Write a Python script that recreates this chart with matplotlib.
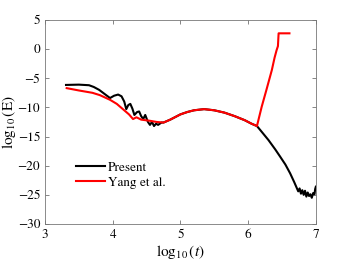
import matplotlib
matplotlib.use("Agg")
import matplotlib.pyplot as plt

# Present (black)
present_x = [3.31, 3.50, 3.65, 3.72, 3.80, 3.88, 3.96, 4.02, 4.08, 4.13, 4.17, 4.20,
             4.23, 4.26, 4.29, 4.32, 4.36, 4.39, 4.42, 4.45, 4.48, 4.52, 4.55, 4.58,
             4.61, 4.64, 4.67, 4.72, 4.75, 4.85, 5.00, 5.10, 5.20, 5.35, 5.50, 5.65,
             5.80, 5.95, 6.05, 6.13, 6.18, 6.30, 6.40, 6.47, 6.55, 6.62, 6.68, 6.74,
             6.76, 6.78, 6.80, 6.82, 6.84, 6.86, 6.88, 6.90, 6.92, 6.94, 6.96, 6.98,
             6.99, 7.00]
present_y = [-6.15, -6.1, -6.2, -6.5, -7.0, -7.7, -8.4, -8.0, -7.8, -8.1, -9.0, -10.3,
             -9.6, -9.4, -10.2, -11.3, -10.8, -10.7, -11.5, -12.0, -11.3, -12.5, -13.0, -12.5,
             -13.2, -12.8, -13.0, -12.6, -12.6, -12.1, -11.2, -10.8, -10.5, -10.3, -10.5, -10.9,
             -11.5, -12.2, -12.8, -13.2, -13.9, -15.6, -17.2, -18.4, -19.8, -21.3, -22.8, -24.4,
             -23.9, -24.8, -24.2, -25.0, -24.3, -25.3, -24.6, -25.2, -24.9, -25.5, -24.7, -24.9,
             -24.0, -23.6]

# Yang et al. (red)
yang_x = [3.32, 3.50, 3.70, 3.81, 3.96, 4.06, 4.16, 4.24, 4.30, 4.35, 4.42, 4.55,
          4.65, 4.75, 4.85, 5.00, 5.10, 5.20, 5.35, 5.50, 5.65, 5.80, 5.95, 6.05,
          6.13, 6.20, 6.27, 6.35, 6.39, 6.42, 6.44, 6.45, 6.61]
yang_y = [-6.7, -7.1, -7.5, -7.9, -8.7, -9.4, -10.4, -11.2, -12.0, -11.7, -12.1, -12.3,
          -12.5, -12.6, -12.1, -11.2, -10.8, -10.5, -10.3, -10.5, -10.9, -11.5, -12.2, -12.8,
          -13.2, -9.9, -7.0, -3.6, -1.5, -0.2, 0.5, 2.7, 2.7]

plt.rcParams['font.family'] = ['STIXGeneral', 'Liberation Serif']
plt.rcParams['mathtext.fontset'] = 'stix'

fig = plt.figure(figsize=(3.49, 2.62), dpi=100)
ax = fig.add_axes([0.129, 0.145, 0.776, 0.779])

ax.plot(present_x, present_y, color='black', lw=1.5, label='Present')
ax.plot(yang_x, yang_y, color='red', lw=1.5, label='Yang et al.')

ax.set_xlim(3, 7)
ax.set_ylim(-30, 5)
ax.set_xticks([3, 4, 5, 6, 7])
ax.set_yticks(range(-30, 6, 5))
ax.tick_params(direction='in', top=True, right=True, labelsize=9.5,
               length=3, width=0.5, color='#555555')
for s in ax.spines.values():
    s.set_color('#777777')
    s.set_linewidth(0.6)

ax.set_xlabel(r'$\log_{10}(t)$', fontsize=11, labelpad=2)
ax.set_ylabel(r'$\log_{10}(\mathrm{E})$', fontsize=11, labelpad=0)

ax.legend(loc='lower left', bbox_to_anchor=(0.096, 0.146), frameon=False,
          fontsize=9.5, handlelength=2.2, handletextpad=0.2, labelspacing=0.2,
          borderaxespad=0)

fig.savefig('out.png', dpi=100)
